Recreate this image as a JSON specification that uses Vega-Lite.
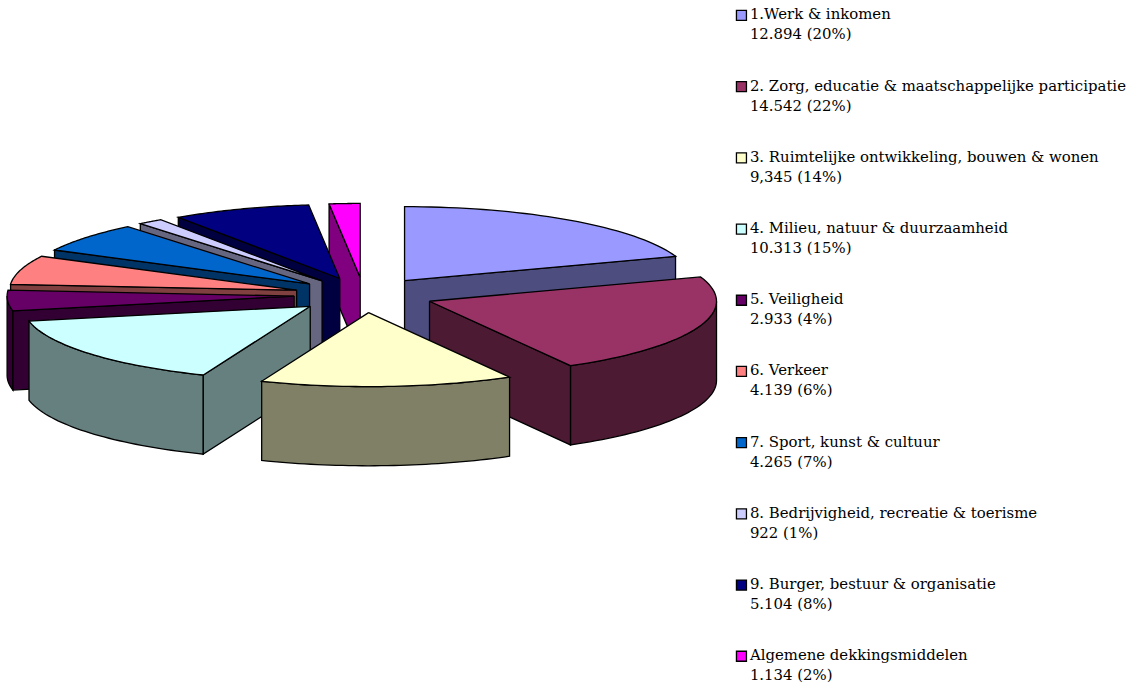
{"$schema":"https://vega.github.io/schema/vega-lite/v6.json","width":1136,"height":685,"padding":0,"autosize":"none","background":"white","config":{"view":{"stroke":null}},
"data":{"values":[
{"nr":10,"naam":"Algemene dekkingsmiddelen","waarde":1134,"bijschrift":"1.134 (2%)"},
{"nr":9,"naam":"9. Burger, bestuur & organisatie","waarde":5104,"bijschrift":"5.104 (8%)"},
{"nr":8,"naam":"8. Bedrijvigheid, recreatie & toerisme","waarde":922,"bijschrift":"922 (1%)"},
{"nr":7,"naam":"7. Sport, kunst & cultuur","waarde":4265,"bijschrift":"4.265 (7%)"},
{"nr":6,"naam":"6. Verkeer","waarde":4139,"bijschrift":"4.139 (6%)"},
{"nr":5,"naam":"5. Veiligheid","waarde":2933,"bijschrift":"2.933 (4%)"},
{"nr":1,"naam":"1.Werk & inkomen","waarde":12894,"bijschrift":"12.894 (20%)"},
{"nr":4,"naam":"4. Milieu, natuur & duurzaamheid","waarde":10313,"bijschrift":"10.313 (15%)"},
{"nr":2,"naam":"2. Zorg, educatie & maatschappelijke participatie","waarde":14542,"bijschrift":"14.542 (22%)"},
{"nr":3,"naam":"3. Ruimtelijke ontwikkeling, bouwen & wonen","waarde":9345,"bijschrift":"9,345 (14%)"}
]},
"transform":[
{"joinaggregate":[{"op":"sum","field":"waarde","as":"totaal"}]},
{"window":[{"op":"sum","field":"waarde","as":"cum"}],"sort":[{"field":"nr","order":"ascending"}]},
{"calculate":"2*PI*(datum.cum-datum.waarde)/datum.totaal","as":"a0"},
{"calculate":"2*PI*datum.cum/datum.totaal","as":"a1"},
{"calculate":"(datum.a0+datum.a1)/2","as":"mid"},
{"calculate":"max(datum.a0,PI/2)","as":"w0"},
{"calculate":"min(datum.a1,3*PI/2)","as":"w1"},
{"calculate":"['wand','start','eind','top']","as":"face"},
{"flatten":["face"]},
{"filter":"datum.face=='top'||(datum.face=='wand'&&datum.w1>datum.w0)||(datum.face=='start'&&sin(datum.a0)<-0.000001)||(datum.face=='eind'&&sin(datum.a1)>0.000001)"},
{"calculate":"sequence(0,83)","as":"i"},
{"flatten":["i"]},
{"filter":"datum.face=='top'?datum.i<=42:datum.face=='wand'?datum.i<=82:datum.i<=4"},
{"calculate":"datum.face=='top'?datum.a0+(datum.a1-datum.a0)*(datum.i-1)/40:datum.face=='start'?datum.a0:datum.face=='eind'?datum.a1:datum.i<=40?datum.w0+(datum.w1-datum.w0)*datum.i/40:datum.i<=81?datum.w1-(datum.w1-datum.w0)*(datum.i-41)/40:datum.w0","as":"theta"},
{"calculate":"datum.face=='top'?((datum.i>=1&&datum.i<=41)?1:0):datum.face=='wand'?1:((datum.i==1||datum.i==2)?1:0)","as":"r"},
{"calculate":"datum.face=='top'?0:datum.face=='wand'?((datum.i>40&&datum.i<82)?1:0):((datum.i==2||datum.i==3)?1:0)","as":"z"},
{"calculate":"0.244*sin(datum.mid)+datum.r*sin(datum.theta)","as":"px"},
{"calculate":"0.238*cos(datum.mid)+datum.r*cos(datum.theta)-1.07*datum.z","as":"py"},
{"calculate":"datum.nr+'-'+datum.face","as":"vlak"},
{"calculate":"datum.face=='top'?(datum.naam+'|'+datum.bijschrift):('zij'+datum.nr)","as":"kleur"}
],
"mark":{"type":"line","stroke":"black","strokeWidth":1.3,"strokeJoin":"miter","interpolate":"linear"},
"encoding":{
"x":{"field":"px","type":"quantitative","scale":{"domain":[-1.2683,2.6899],"nice":false,"zero":false},"axis":null},
"y":{"field":"py","type":"quantitative","scale":{"domain":[-5.27,3.987],"nice":false,"zero":false},"axis":null},
"order":{"field":"i","type":"quantitative"},
"detail":{"field":"vlak"},
"fill":{"field":"kleur","type":"nominal","scale":{
"domain":["1.Werk & inkomen|12.894 (20%)","2. Zorg, educatie & maatschappelijke participatie|14.542 (22%)","3. Ruimtelijke ontwikkeling, bouwen & wonen|9,345 (14%)","4. Milieu, natuur & duurzaamheid|10.313 (15%)","5. Veiligheid|2.933 (4%)","6. Verkeer|4.139 (6%)","7. Sport, kunst & cultuur|4.265 (7%)","8. Bedrijvigheid, recreatie & toerisme|922 (1%)","9. Burger, bestuur & organisatie|5.104 (8%)","Algemene dekkingsmiddelen|1.134 (2%)","zij1","zij2","zij3","zij4","zij5","zij6","zij7","zij8","zij9","zij10"],
"range":["#9999FF","#993366","#FFFFCC","#CCFFFF","#660066","#FF8080","#0066CC","#CCCCFF","#000080","#FF00FF","#4D4D80","#4D1A33","#808066","#668080","#330033","#804040","#003366","#666680","#000040","#800080"]},
"legend":{"title":null,"orient":"none","legendX":734,"legendY":8,"columns":1,
"values":["1.Werk & inkomen|12.894 (20%)","2. Zorg, educatie & maatschappelijke participatie|14.542 (22%)","3. Ruimtelijke ontwikkeling, bouwen & wonen|9,345 (14%)","4. Milieu, natuur & duurzaamheid|10.313 (15%)","5. Veiligheid|2.933 (4%)","6. Verkeer|4.139 (6%)","7. Sport, kunst & cultuur|4.265 (7%)","8. Bedrijvigheid, recreatie & toerisme|922 (1%)","9. Burger, bestuur & organisatie|5.104 (8%)","Algemene dekkingsmiddelen|1.134 (2%)"],
"labelExpr":"split(datum.label,'|')",
"labelFont":"DejaVu Serif","labelFontSize":14.9,"labelColor":"black","labelLimit":500,"labelOffset":1,
"encoding":{"labels":{"lineHeight":{"value":20}}},
"symbolType":"square","symbolSize":100,"symbolStrokeColor":"black","symbolStrokeWidth":1.3,"rowPadding":35.2}}
}}
